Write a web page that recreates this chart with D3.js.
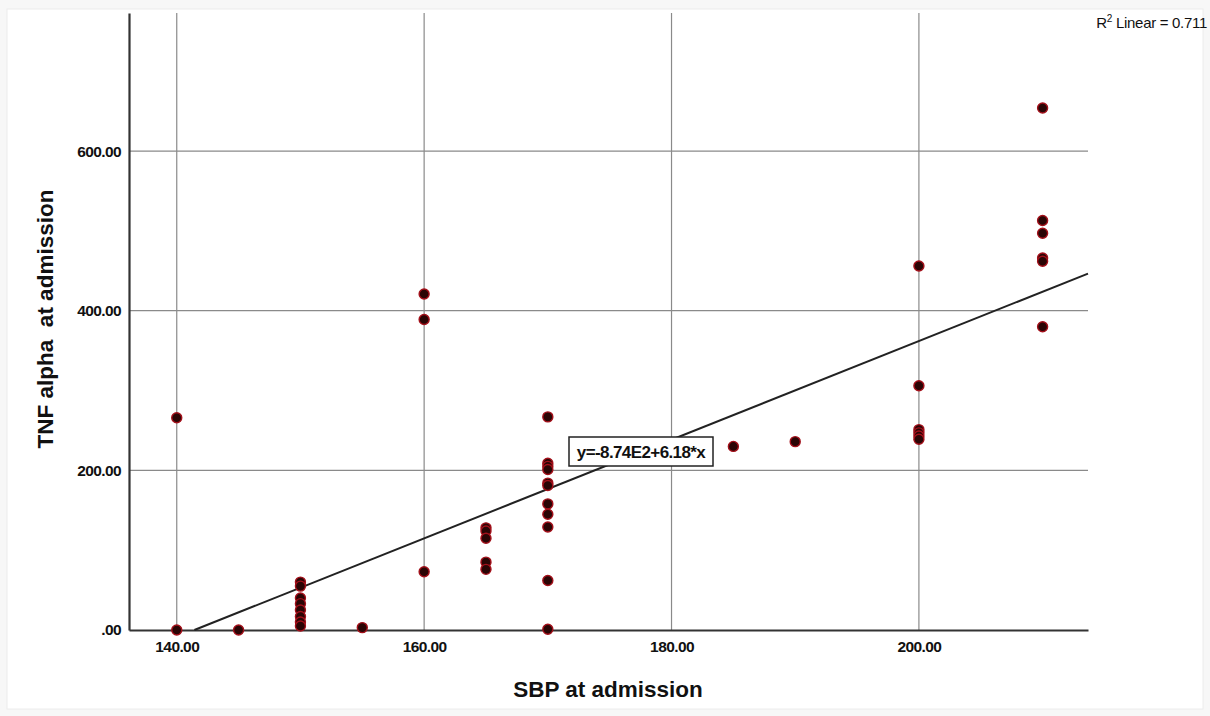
<!DOCTYPE html>
<html>
<head>
<meta charset="utf-8">
<script src="https://cdn.jsdelivr.net/npm/d3@7"></script>
<style>
  body { margin: 0; background: #f7f7f7; }
  svg { display: block; }
  text { font-family: "Liberation Sans", Arial, sans-serif; fill: #111; }
</style>
</head>
<body>
<div id="chart"></div>
<script>
const width = 1210
const height = 716
const margin = { top: 13, left: 129, right: 122, bottom: 86 }

// datos (SBP, TNF alpha)
const sbp = [140, 140, 145,
    150, 150, 150, 150, 150, 150, 150, 150,
    155, 160, 160, 160,
    165, 165, 165, 165, 165,
    170, 170, 170, 170, 170, 170, 170, 170, 170, 170, 170,
    185, 190,
    200, 200, 200, 200, 200, 200,
    210, 210, 210, 210, 210, 210]
const tnf = [0, 266, 0,
    60, 55, 40, 33, 25, 17, 10, 5,
    3, 73, 389, 421,
    128, 124, 115, 85, 76,
    267, 209, 205, 201, 184, 181, 158, 145, 129, 62, 1,
    230, 236,
    456, 306, 251, 247, 243, 239,
    654, 513, 497, 466, 462, 380]

const xTicks = [140, 160, 180, 200]
const yTicks = [0, 200, 400, 600]
const intercept = -874
const slope = 6.18
const r2 = 0.711

const svg = d3.select("#chart").append("svg").attr("width", width).attr("height", height)
svg.append("rect").attr("x", 7).attr("y", 9).attr("width", width - 14).attr("height", height - 16)
    .attr("fill", "white").attr("stroke", "#ececec")

const x = d3.scaleLinear().domain([136.14, 213.67]).range([margin.left, width - margin.right])
const y = d3.scaleLinear().domain([0, 773]).range([height - margin.bottom, margin.top])

// rejilla
const grid = svg.append("g")
grid.selectAll("line.v").data(xTicks).enter().append("line")
    .attr("x1", d => x(d)).attr("x2", d => x(d))
    .attr("y1", margin.top).attr("y2", y(0))
    .attr("stroke", "#8a8a8a").attr("stroke-width", 1.2)
grid.selectAll("line.h").data(yTicks.filter(d => d > 0)).enter().append("line")
    .attr("x1", margin.left).attr("x2", width - margin.right)
    .attr("y1", d => y(d)).attr("y2", d => y(d))
    .attr("stroke", "#8a8a8a").attr("stroke-width", 1.2)

// ejes
const xAxis = d3.axisBottom(x).tickValues(xTicks).tickFormat(d3.format(".2f")).tickSize(0).tickPadding(11)
const yAxis = d3.axisLeft(y).tickValues(yTicks).tickFormat(d => d === 0 ? ".00" : d3.format(".2f")(d)).tickSize(0).tickPadding(8)

const xAxisGroup = svg.append("g").attr("transform", `translate(0, ${y(0)})`).call(xAxis)
const yAxisGroup = svg.append("g").attr("transform", `translate(${margin.left}, 0)`).call(yAxis)
xAxisGroup.select(".domain").attr("stroke", "#333").attr("stroke-width", 2.2)
yAxisGroup.select(".domain").attr("stroke", "#333").attr("stroke-width", 2.2)
svg.selectAll(".tick text").attr("font-size", 15.5).attr("font-weight", "bold")
    .attr("font-family", "\"Liberation Sans\", Arial, sans-serif").attr("fill", "#111")
    .attr("letter-spacing", "-0.6")

// recta de regresión
const x0 = -intercept / slope
const x1 = x.domain()[1]
svg.append("line")
    .attr("x1", x(x0)).attr("y1", y(intercept + slope * x0))
    .attr("x2", x(x1)).attr("y2", y(intercept + slope * x1))
    .attr("stroke", "#222").attr("stroke-width", 2)

// puntos
const points = sbp.map((d, i) => ({ sbp: d, tnf: tnf[i] }))
svg.append("g").selectAll("circle").data(points).enter().append("circle")
    .attr("cx", d => x(d.sbp))
    .attr("cy", d => y(d.tnf))
    .attr("r", 5)
    .attr("fill", "#2a0505")
    .attr("stroke", "#a3101a")
    .attr("stroke-width", 1.4)

// etiqueta de la ecuación
const lbl = svg.append("g").attr("transform", "translate(569, 437)")
lbl.append("rect").attr("width", 144).attr("height", 29).attr("fill", "white")
    .attr("stroke", "#222").attr("stroke-width", 1.5)
lbl.append("text").attr("x", 72).attr("y", 21).attr("text-anchor", "middle")
    .attr("font-size", 17).attr("font-weight", "bold").attr("letter-spacing", "-0.6")
    .text(`y=${(intercept / 100).toFixed(2)}E2+${slope.toFixed(2)}*x`)

// R2
const r2t = svg.append("text").attr("x", 1207).attr("y", 28).attr("text-anchor", "end").attr("font-size", 15)
    .attr("letter-spacing", "-0.3")
r2t.append("tspan").text("R")
r2t.append("tspan").attr("dy", -6).attr("font-size", 10).text("2")
r2t.append("tspan").attr("dy", 6).text(` Linear = ${r2}`)

// títulos
svg.append("text").attr("x", 608).attr("y", 697).attr("text-anchor", "middle")
    .attr("font-size", 22.5).attr("font-weight", "bold").text("SBP at admission")
svg.append("text").attr("transform", "translate(53, 319) rotate(-90)").attr("text-anchor", "middle")
    .attr("font-size", 22.5).attr("font-weight", "bold").attr("xml:space", "preserve").text("TNF alpha  at admission")
</script>
</body>
</html>
